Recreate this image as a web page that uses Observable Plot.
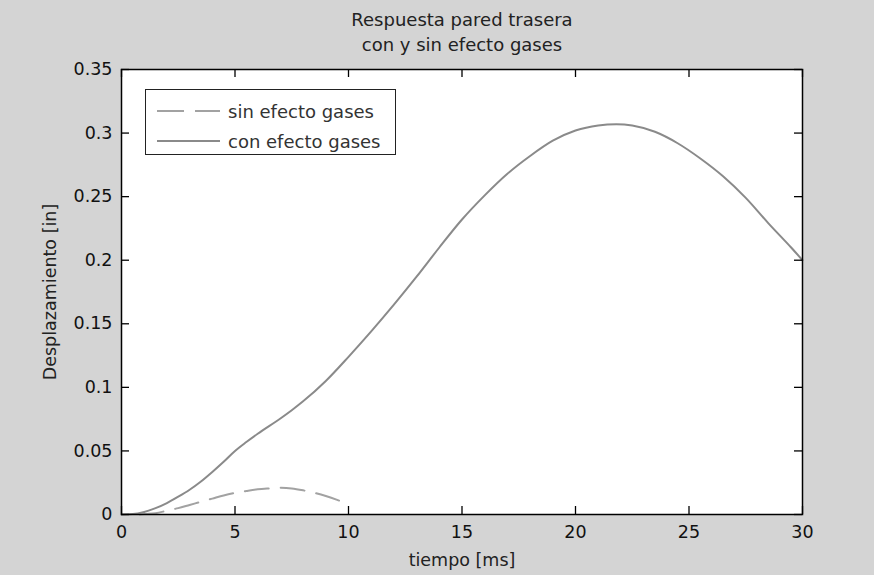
<!DOCTYPE html>
<html>
<head>
<meta charset="utf-8">
<script src="https://cdn.jsdelivr.net/npm/d3@7"></script>
<script src="https://cdn.jsdelivr.net/npm/@observablehq/plot@0.6"></script>
<style>
  html, body { margin: 0; padding: 0; background: #d4d4d4; }
  #wrap { position: relative; width: 874px; height: 575px; background: #d4d4d4; }
  #legend {
    position: absolute; left: 145px; top: 89px; width: 251px; height: 66px;
    background: white; border: 1px solid #222; box-sizing: border-box;
    font-family: "DejaVu Sans", sans-serif; font-size: 18px; color: #333;
  }
  .row { position: absolute; left: 0; height: 30px; display: flex; align-items: center; }
  .row svg { margin-left: 11px; margin-right: 8px; }
</style>
</head>
<body>
<div id="wrap"></div>
<script>
// ---- data ----
const titleLines = ["Respuesta pared trasera", "con y sin efecto gases"];
const xLabel = "tiempo [ms]";
const yLabel = "Desplazamiento [in]";
const seriesNames = ["sin efecto gases", "con efecto gases"];

const xTicks = [0, 5, 10, 15, 20, 25, 30];
const yTicks = [0, 0.05, 0.1, 0.15, 0.2, 0.25, 0.3, 0.35];

// con efecto gases (solid)
const conT = [0, 0.5, 1, 1.5, 2, 2.5, 3, 3.5, 4, 4.5, 5, 5.5, 6, 7, 7.5, 8, 9, 10, 11, 12, 13, 14, 15, 16, 17, 18, 19, 20, 21, 21.8, 22.5, 23.5, 24.5, 25.5, 26.5, 27.5, 28.5, 29.5, 30];
const conV = [0, 0.0003, 0.002, 0.005, 0.009, 0.014, 0.0195, 0.026, 0.0335, 0.0415, 0.050, 0.057, 0.0635, 0.0755, 0.082, 0.089, 0.105, 0.124, 0.144, 0.165, 0.187, 0.210, 0.232, 0.251, 0.268, 0.282, 0.294, 0.302, 0.306, 0.307, 0.306, 0.301, 0.292, 0.280, 0.266, 0.249, 0.229, 0.210, 0.200];

// sin efecto gases (dashed)
const sinT = [0.8, 1, 1.5, 2, 2.5, 3, 3.5, 4, 4.5, 5, 5.5, 6, 6.5, 7, 7.5, 8, 8.5, 9, 9.5, 9.8];
const sinV = [0, 0.0003, 0.001, 0.003, 0.005, 0.0075, 0.010, 0.0125, 0.015, 0.017, 0.0185, 0.0198, 0.0205, 0.021, 0.0205, 0.019, 0.017, 0.0145, 0.0115, 0.0095];

const con = conT.map((t, i) => ({t, v: conV[i]}));
const sin = sinT.map((t, i) => ({t, v: sinV[i]}));

const W = 874, H = 575;
const mL = 121, mR = 72, mT = 69, mB = 61;
const plotW = W - mL - mR, plotH = H - mT - mB;
const tick = 8;
const solidColor = "#8a8a8a", dashColor = "#a2a2a2";
const dash = "24,12";

const chart = Plot.plot({
  width: W, height: H,
  marginLeft: mL, marginRight: mR, marginTop: mT, marginBottom: mB,
  style: {background: "#d4d4d4", fontFamily: "DejaVu Sans, sans-serif", fontSize: "17.5px", color: "#111"},
  x: {domain: [0, 30]},
  y: {domain: [0, 0.35]},
  marks: [
    Plot.frame({fill: "white"}),
    Plot.line(con, {x: "t", y: "v", stroke: solidColor, strokeWidth: 2, curve: "monotone-x"}),
    Plot.line(sin, {x: "t", y: "v", stroke: dashColor, strokeWidth: 2, strokeDasharray: dash, curve: "monotone-x"}),
    // inward ticks on all four sides
    Plot.tickX(xTicks, {x: d => d, insetTop: plotH - tick, stroke: "black", strokeWidth: 1.3}),
    Plot.tickX(xTicks, {x: d => d, insetBottom: plotH - tick, stroke: "black", strokeWidth: 1.3}),
    Plot.tickY(yTicks, {y: d => d, insetRight: plotW - tick, stroke: "black", strokeWidth: 1.3}),
    Plot.tickY(yTicks, {y: d => d, insetLeft: plotW - tick, stroke: "black", strokeWidth: 1.3}),
    Plot.axisX(xTicks, {tickSize: 0, tickPadding: 11, label: null, tickFormat: d => String(d)}),
    Plot.axisY(yTicks, {tickSize: 0, tickPadding: 9, label: null, tickFormat: d => String(d)}),
    Plot.frame({stroke: "black", strokeWidth: 1.5}),
    Plot.text([titleLines[0]], {text: d => d, frameAnchor: "top", dy: -49, lineAnchor: "middle", fontSize: 18, fill: "#222"}),
    Plot.text([titleLines[1]], {text: d => d, frameAnchor: "top", dy: -24, lineAnchor: "middle", fontSize: 18, fill: "#222"}),
    Plot.text([xLabel], {text: d => d, frameAnchor: "bottom", dy: 46, lineAnchor: "middle", textAnchor: "middle", fontSize: 17.5, fill: "#222"}),
    Plot.text([yLabel], {text: d => d, frameAnchor: "left", dx: -71, rotate: -90, lineAnchor: "middle", textAnchor: "middle", fontSize: 17.5, fill: "#222"})
  ]
});

const wrap = document.getElementById("wrap");
wrap.appendChild(chart);

// legend
const legend = document.createElement("div");
legend.id = "legend";
const items = [
  {name: seriesNames[0], color: dashColor, dash: "27,11"},
  {name: seriesNames[1], color: solidColor, dash: null}
];
items.forEach((it, i) => {
  const row = document.createElement("div");
  row.className = "row";
  row.style.top = (6 + i * 30) + "px";
  const ns = "http://www.w3.org/2000/svg";
  const s = document.createElementNS(ns, "svg");
  s.setAttribute("width", 63); s.setAttribute("height", 10);
  const l = document.createElementNS(ns, "line");
  l.setAttribute("x1", 0); l.setAttribute("x2", 63);
  l.setAttribute("y1", 5); l.setAttribute("y2", 5);
  l.setAttribute("stroke", it.color); l.setAttribute("stroke-width", 2);
  if (it.dash) l.setAttribute("stroke-dasharray", it.dash);
  s.appendChild(l);
  row.appendChild(s);
  const span = document.createElement("span");
  span.textContent = it.name;
  row.appendChild(span);
  legend.appendChild(row);
});
wrap.appendChild(legend);
</script>
</body>
</html>
